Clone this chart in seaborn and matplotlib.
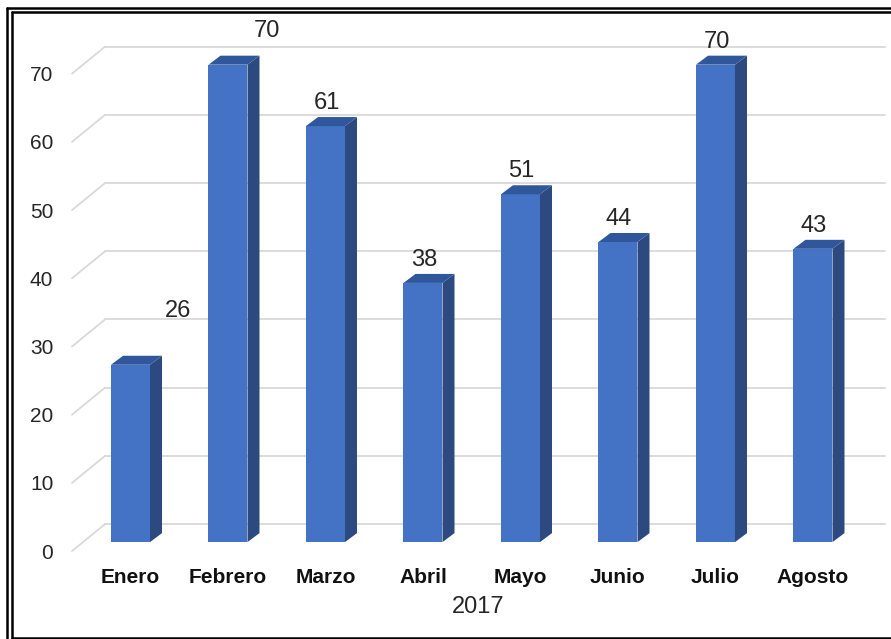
import matplotlib
matplotlib.use("Agg")
import matplotlib.pyplot as plt
import seaborn as sns
import numpy as np
from matplotlib.patches import Polygon
from matplotlib.lines import Line2D

meses = ["Enero", "Febrero", "Marzo", "Abril", "Mayo", "Junio", "Julio", "Agosto"]
casos = [26, 70, 61, 38, 51, 44, 70, 43]
ticks_y = [0, 10, 20, 30, 40, 50, 60, 70]
anio = "2017"

# label nudges (pixels) where excel put them off the bar
nudge = {"Enero": (48, 54), "Febrero": (39, 34)}

sns.set_style("white")
plt.rcParams['font.family'] = ['Liberation Sans Narrow', 'Liberation Sans', 'DejaVu Sans']

W, H = 891, 639
fig = plt.figure(figsize=(W / 100, H / 100), dpi=100)
ax = fig.add_axes([72 / W, 1 - 560 / H, 813 / W, 540 / H])

sns.barplot(x=meses, y=casos, color="#4472C4", saturation=1, width=0.4, ax=ax,
            zorder=2, linewidth=0)

ax.set_xlim(-0.6, 7.7385)
ax.set_ylim(-2.625, 76.55)

# pixels per data unit
p0 = ax.transData.transform((0, 0))
p1 = ax.transData.transform((1, 1))
sx, sy = p1[0] - p0[0], p1[1] - p0[1]

grid_c = "#d9d9d9"
x0, x1 = ax.get_xlim()
for v in ticks_y:
    ax.plot([x0, x0 + 33 / sx], [v - 9 / sy, v + 18 / sy], color=grid_c, lw=1.3, zorder=0, clip_on=False)
    ax.plot([x0 + 33 / sx, x1], [v + 18 / sy, v + 18 / sy], color=grid_c, lw=1.3, zorder=0, clip_on=False)

dx, dy = 12 / sx, 9 / sy
for p in list(ax.patches):
    bx, bw, bh = p.get_x(), p.get_width(), p.get_height()
    side = [(bx + bw, 0), (bx + bw, bh), (bx + bw + dx, bh + dy), (bx + bw + dx, dy)]
    top = [(bx, bh), (bx + bw, bh), (bx + bw + dx, bh + dy), (bx + dx, bh + dy)]
    ax.add_patch(Polygon(side, closed=True, facecolor="#2C4A80", edgecolor="none", zorder=2))
    ax.add_patch(Polygon(top, closed=True, facecolor="#30579B", edgecolor="none", zorder=2))

for i, (m, v) in enumerate(zip(meses, casos)):
    ox, oy = nudge.get(m, (1, 23))
    ax.annotate(str(v), (i, v), xytext=(ox, oy), textcoords="offset pixels",
                ha="center", va="center", fontsize=17, color="#262626", zorder=5,
                annotation_clip=False)

ax.set_yticks([v - 9 / sy for v in ticks_y], labels=[str(v) for v in ticks_y])
ax.tick_params(axis="y", length=0, pad=13.5, labelsize=15, labelcolor="#262626")
ax.tick_params(axis="x", length=0, pad=6, labelsize=15)
for lab in ax.get_xticklabels():
    lab.set_fontweight("bold")
    lab.set_color("#111111")
ax.set_xlabel(anio, fontsize=17, color="#262626", labelpad=6)
ax.set_ylabel("")
sns.despine(ax=ax, left=True, bottom=True)

# double frame around the picture
def fline(xs, ys, lw):
    fig.add_artist(Line2D([x / W for x in xs], [1 - y / H for y in ys], color="black", lw=lw))

fline([7, 7], [8, 639], 1.8)
fline([7, W], [8, 8], 1.8)
fline([11.5, 11.5], [11.5, 637.5], 1.8)
fline([11.5, W], [11.5, 11.5], 1.8)
fline([11.5, W], [637.5, 637.5], 1.8)

fig.savefig("out.png", dpi=100)
